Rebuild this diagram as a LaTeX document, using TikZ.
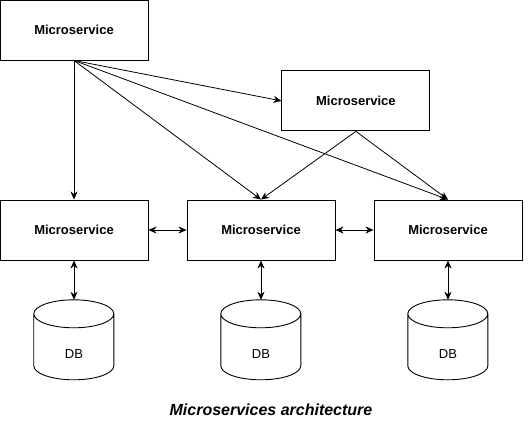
\documentclass[tikz,border=0pt]{standalone}
\usepackage{fontspec}
\setmainfont{Liberation Sans}
\usetikzlibrary{positioning, calc}
\usetikzlibrary{shapes.geometric, arrows.meta}
\tikzstyle{service} = [rectangle, draw, line width=0.9pt, minimum width=148pt,
    minimum height=60pt, inner sep=0pt, font=\fontsize{13}{15}\selectfont\bfseries]
\tikzstyle{store} = [rectangle, minimum width=80pt, minimum height=80pt, inner sep=0pt,
    text height=36pt, font=\fontsize{13}{15}\selectfont]
\tikzstyle{line} = [draw, line width=0.8pt, -{Stealth[length=8pt, width=7pt, inset=2.5pt]}]
\tikzstyle{both} = [draw, line width=0.8pt, {Stealth[length=8pt, width=7pt, inset=2.5pt]}-{Stealth[length=8pt, width=7pt, inset=2.5pt]}]

\begin{document}
\begin{tikzpicture}[node distance = 200pt, auto]
  \useasboundingbox (-74pt,30pt) rectangle (457pt,-391pt);
   % Place nodes
    \node [service] (top) {Microservice};
    \node [service, below right=10pt and 133pt of top] (side) {Microservice};
    \node [service, below of=top] (left) {Microservice};
    \node [service, right of=left, node distance = 187pt] (mid) {Microservice};
    \node [service, right of=mid, node distance = 187pt] (right) {Microservice};
    \node [store, below of=left, node distance = 110pt] (dbleft) {DB};
    \node [store, below of=mid, node distance = 110pt] (dbmid) {DB};
    \node [store, below of=right, node distance = 110pt] (dbright) {DB};
    \node [font=\fontsize{16}{19}\selectfont\bfseries\itshape] (caption) at (197pt,-380pt) {Microservices architecture};
   % Cylinder outlines
    \foreach \n in {dbleft, dbmid, dbright}
      \draw [line width=0.9pt] ($(\n.north west)+(0,-14pt)$) -- ++(0,-52pt)
        arc[start angle=180, end angle=360, x radius=40pt, y radius=14pt] -- ++(0,52pt)
        arc[start angle=0, end angle=180, x radius=40pt, y radius=14pt]
        arc[start angle=180, end angle=360, x radius=40pt, y radius=14pt];
   % Draw edges
    \path [line] (top) -- (left);
    \path [line] (top.south) -- (side.west);
    \path [line] (top.south) -- (mid.north);
    \path [line] (top.south) -- (right.north);
    \path [line] (side.south) -- (mid.north);
    \path [line] (side.south) -- (right.north);
    \path [both] (left) -- (mid);
    \path [both] (mid) -- (right);
    \path [both] (left) -- (dbleft);
    \path [both] (mid) -- (dbmid);
    \path [both] (right) -- (dbright);
  \end{tikzpicture}
\end{document}
